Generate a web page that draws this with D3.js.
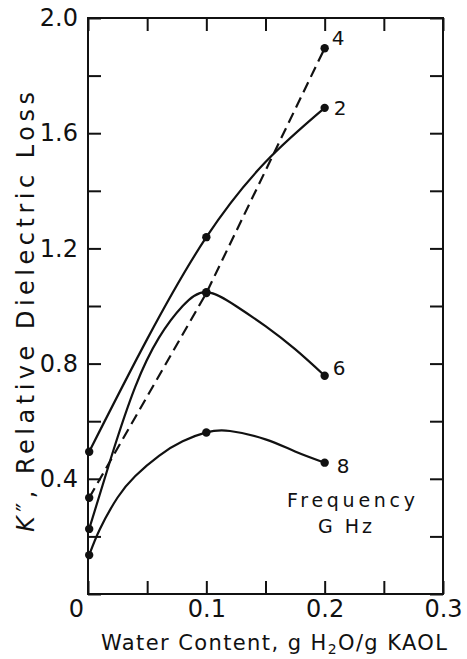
<!DOCTYPE html>
<html lang="en">
<head>
  <meta charset="UTF-8">
  <title>Dielectric loss vs water content</title>
  <style>
    body { margin: 0; background: #fff; }
    text { font-family: "DejaVu Sans", sans-serif; fill: #111; }
  </style>
</head>
<body>
  <svg></svg>
  <script src="https://cdn.jsdelivr.net/npm/d3@7"></script>
  <script>
    // measured points (markers), x in g H2O / g KAOL
    const waterContent = [0.001, 0.1, 0.2]
    const freqLabels = ["2", "4", "6", "8"]
    const loss2 = [0.494, 1.239, 1.688]
    const loss4 = [0.334, 1.045, 1.895]
    const loss6 = [0.226, 1.048, 0.758]
    const loss8 = [0.135, 0.561, 0.456]

    // hand drawn curves
    const curve2 = [[0.001, 0.494], [0.05, 0.885], [0.1, 1.239], [0.15, 1.50], [0.2, 1.688]]
    const curve4 = [[0.001, 0.334], [0.1, 1.045], [0.2, 1.895]]
    const curve6 = [[0.001, 0.226], [0.02, 0.48], [0.04, 0.72], [0.06, 0.89], [0.08, 1.0],
                    [0.1, 1.048], [0.125, 1.0], [0.15, 0.93], [0.175, 0.85], [0.2, 0.758]]
    const curve8 = [[0.001, 0.135], [0.01, 0.225], [0.025, 0.335], [0.04, 0.41], [0.06, 0.48],
                    [0.08, 0.53], [0.1, 0.561], [0.12, 0.566], [0.15, 0.537], [0.175, 0.495],
                    [0.2, 0.456]]

    const xTicks = [0, 0.05, 0.1, 0.15, 0.2, 0.25, 0.3]
    const xTickLabels = [0, 0.1, 0.2, 0.3]
    const yTicks = [0, 0.2, 0.4, 0.6, 0.8, 1.0, 1.2, 1.4, 1.6, 1.8, 2.0]
    const yTickLabels = [0.4, 0.8, 1.2, 1.6, 2.0]

    var width = 467
    var height = 659
    var svg = d3.select("svg")
      .attr("width", width)
      .attr("height", height)

    var x = d3.scaleLinear().domain([0, 0.3]).range([88, 443])
    var y = d3.scaleLinear().domain([0, 2]).range([594, 18])

    // inward ticks on all four sides
    const tickLen = 13
    svg.append("g").attr("transform", "translate(0,594)")
      .call(d3.axisBottom(x).tickValues(xTicks).tickSize(-tickLen).tickFormat(""))
    svg.append("g").attr("transform", "translate(0,18)")
      .call(d3.axisTop(x).tickValues(xTicks).tickSize(-tickLen).tickFormat(""))
    svg.append("g").attr("transform", "translate(88,0)")
      .call(d3.axisLeft(y).tickValues(yTicks).tickSize(-tickLen).tickFormat(""))
    svg.append("g").attr("transform", "translate(443,0)")
      .call(d3.axisRight(y).tickValues(yTicks).tickSize(-tickLen).tickFormat(""))
    svg.selectAll(".tick line").attr("stroke", "#111").attr("stroke-width", 2)
    svg.selectAll(".domain").remove()

    // tick labels
    var xl = svg.append("g").attr("transform", "translate(0,594)")
      .call(d3.axisBottom(x).tickValues(xTickLabels).tickSize(0).tickPadding(6)
        .tickFormat(d => d === 0 ? "0" : d3.format(".1f")(d)))
    var yl = svg.append("g").attr("transform", "translate(88,0)")
      .call(d3.axisLeft(y).tickValues(yTickLabels).tickSize(0).tickPadding(10)
        .tickFormat(d3.format(".1f")))
    xl.select(".domain").remove()
    yl.select(".domain").remove()
    svg.selectAll(".tick text").attr("font-size", 24).attr("font-family", "DejaVu Sans").attr("fill", "#111")
    // the "0" sits a little left of its tick in the original
    xl.selectAll(".tick text").filter(d => d === 0).attr("dx", -12)

    // frame
    svg.append("rect")
      .attr("x", x(0)).attr("y", y(2))
      .attr("width", x(0.3) - x(0)).attr("height", y(0) - y(2))
      .attr("fill", "none").attr("stroke", "#111").attr("stroke-width", 2)

    const series = [
      { key: "2", pts: loss2, curve: curve2, dash: null, dx: 9, dy: 0 },
      { key: "4", pts: loss4, curve: curve4, dash: "11,6", dx: 7, dy: -10 },
      { key: "6", pts: loss6, curve: curve6, dash: null, dx: 8, dy: -8 },
      { key: "8", pts: loss8, curve: curve8, dash: null, dx: 12, dy: 3 }
    ]

    const line = d3.line()
      .x(d => x(d[0]))
      .y(d => y(d[1]))

    series.forEach(s => {
      svg.append("path")
        .datum(s.curve)
        .attr("d", line.curve(s.dash ? d3.curveLinear : d3.curveNatural))
        .attr("fill", "none")
        .attr("stroke", "#111")
        .attr("stroke-width", 2.2)
        .attr("stroke-dasharray", s.dash)

      svg.append("g").selectAll("circle")
        .data(s.pts)
        .join("circle")
        .attr("cx", (d, i) => x(waterContent[i]))
        .attr("cy", d => y(d))
        .attr("r", 4.2)
        .attr("fill", "#111")

      svg.append("text")
        .attr("x", x(0.2) + s.dx)
        .attr("y", y(s.pts[2]) + s.dy)
        .attr("dy", "0.36em")
        .attr("font-size", 20)
        .text(freqLabels[freqLabels.indexOf(s.key)])
    })

    // legend note
    svg.append("text").attr("x", 351).attr("y", 507)
      .attr("text-anchor", "middle").attr("font-size", 19)
      .attr("textLength", 128).attr("lengthAdjust", "spacing")
      .text("Frequency")
    svg.append("text").attr("x", 345).attr("y", 533)
      .attr("text-anchor", "middle").attr("font-size", 19)
      .attr("textLength", 54).attr("lengthAdjust", "spacing")
      .text("G Hz")

    // axis titles
    var xt = svg.append("text").attr("x", 274).attr("y", 650)
      .attr("text-anchor", "middle").attr("font-size", 21)
      .attr("textLength", 346).attr("lengthAdjust", "spacing")
    xt.append("tspan").text("Water Content, g H")
    xt.append("tspan").attr("font-size", 14).attr("dy", 4).text("2")
    xt.append("tspan").attr("dy", -4).text("O/g KAOL")

    var yt = svg.append("text")
      .attr("transform", "translate(34,312) rotate(-90)")
      .attr("text-anchor", "middle").attr("font-size", 24)
      .attr("textLength", 440).attr("lengthAdjust", "spacing")
    yt.append("tspan").attr("font-style", "italic").text("K")
    yt.append("tspan").text("″, Relative Dielectric Loss")
  </script>
</body>
</html>
